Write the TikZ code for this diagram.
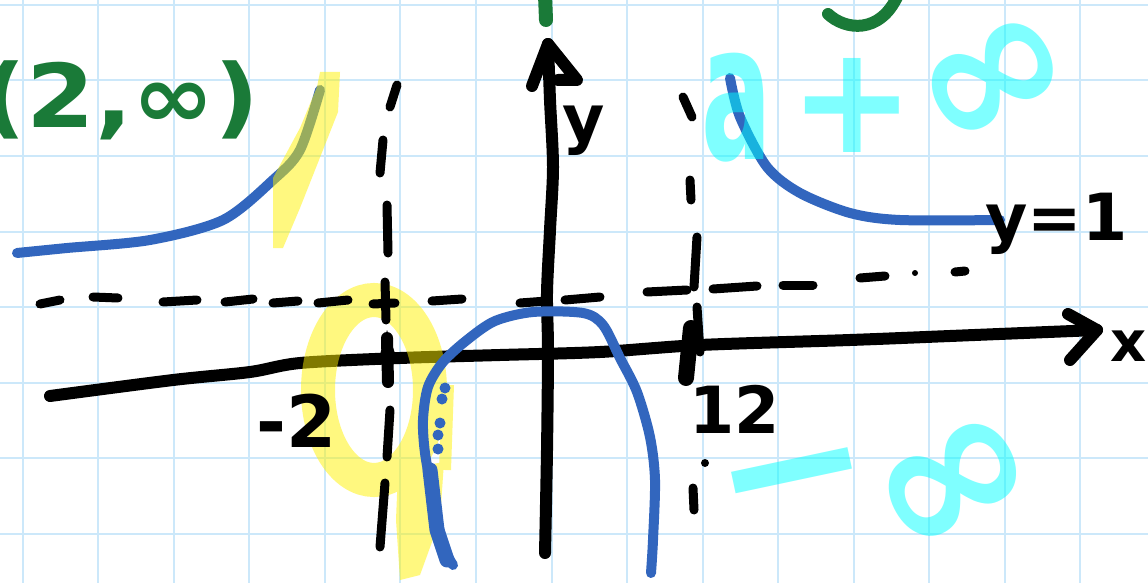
\documentclass[tikz,border=0pt]{standalone}
\usepackage{fontspec}
\setmainfont{DejaVu Sans}
\definecolor{gridblue}{RGB}{204,232,250}
\definecolor{curveblue}{RGB}{50,102,190}
\definecolor{inkgreen}{RGB}{26,122,56}
\definecolor{hicyan}{RGB}{0,255,255}
\begin{document}
\begin{tikzpicture}[x=1pt,y=-1pt,
    gridline/.style={draw=gridblue,line width=2pt},
    pen/.style={line width=12pt,line cap=round,line join=round},
    dashbit/.style={pen,line width=9pt},
    curve/.style={draw=curveblue,line width=10pt,line cap=round,line join=round},
    hand/.style={inner sep=0pt,font=\bfseries\fontsize{#1}{#1}\selectfont},
    hilite/.style={inner sep=0pt,text=hicyan,text opacity=0.5,font=\bfseries\fontsize{#1}{#1}\selectfont}]

    \useasboundingbox (0,0) rectangle (1148,583);
    \fill[white] (0,0) rectangle (1148,583);
    \foreach \i in {0,...,14}
        \draw[gridline] ({22.7+75.55*\i},0) -- ({22.7+75.55*\i},583);
    \foreach \j in {0,...,7}
        \draw[gridline] (0,{5+75.5*\j}) -- (1148,{5+75.5*\j});

    \coordinate (xtail) at (50,396);
    \coordinate (xtip) at (1097,330);
    \coordinate (ytail) at (545,553);
    \coordinate (ytip) at (548,44);

    \draw[pen] plot[smooth] coordinates {(xtail) (173,380) (250,372) (300,363) (400,358) (500,355)
        (600,352) (700,345) (850,340) (950,336) (xtip)};
    \draw[pen] (1068,314) -- (xtip) -- (1070,360);
    \draw[pen] plot[smooth] coordinates {(ytail) (547,450) (548,350) (547,293) (550,230) (553,167)
        (550,100) (ytip)};
    \draw[pen] (532,86) -- (ytip) -- (577,80) -- (558,80);

    \draw[curve] plot[smooth] coordinates {(17,253) (67,248) (150,240) (223,220) (273,180) (300,150) (320,90)};

    \begin{scope}[transparency group,opacity=0.5]
        \draw[yellow,line width=34pt] (374,390) ellipse [x radius=56pt,y radius=90pt];
        \fill[yellow] (398,470) -- (444,462) -- (440,520) -- (420,575) -- (400,580) -- (396,520) -- cycle;
        \fill[yellow] (320,72) -- (340,72) -- (338,112) -- (300,208) -- (283,248) -- (273,248)
            -- (273,178) -- (300,128) -- (317,87) -- cycle;
        \draw[yellow,line width=12pt] (448,385) -- (445,470);
    \end{scope}

    \foreach \xa/\ya/\xb/\yb in {40/304/60/300, 93/297/118/298, 163/302/197/300, 225/302/253/299,
        273/303/298/301, 318/303/348/300, 373/304/395/303, 432/301/462/299, 520/303/547/301,
        565/300/600/297, 647/292/687/290, 713/289/757/286, 783/285/813/285, 860/278/885/276,
        955/272/965/271,
        397/85/390/107, 383/140/380/173, 387/205/388/253, 385/282/386/320, 390/410/387/457,
        385/483/380/547,
        683/97/692/117, 690/180/691/200, 697/237/694/287, 697/307/700/352, 693/488/694/510}
        \draw[dashbit] (\xa,\ya) -- (\xb,\yb);
    \draw[pen,line width=16pt] (691,328) -- (686,378);
    \draw[pen] (387,338) -- (388,382);
    \fill (387,330) -- (398,362) -- (387,355) -- (377,365) -- cycle;
    \fill (705,463) circle[radius=4pt];
    \fill (915,273) circle[radius=3pt];

    \draw[curve] plot[smooth] coordinates {(453,565) (443,545) (433,497) (425,453) (423,420) (428,387)
        (443,362) (467,340) (495,321) (533,312) (583,313) (603,325) (620,358) (637,392) (650,437)
        (655,480) (653,540) (651,573)};
    \draw[curve,line width=15pt] (430,470) -- (437,530) -- (447,560);
    \foreach \x/\y in {445/388, 442/399, 440/423, 438/435, 438/449}
        \fill[curveblue] (\x,\y) circle[radius=5.5pt];
    \draw[curve] plot[smooth] coordinates {(730,78) (740,117) (767,167) (800,193) (850,213) (900,220) (1000,220)};

    \draw[pen,draw=inkgreen,line width=14pt] (545,-5) -- (546,20);
    \draw[pen,draw=inkgreen] (828,14) .. controls (845,30) and (880,35) .. (898,-5);

    \node[hand=88,text=inkgreen,anchor=base east] (domain) at (260,128) {\scalebox{1.12}[1]{(2,∞)}};
    \node[hand=65,anchor=base west] (ylab) at (562,142) {y};
    \node[hand=56,anchor=base west] (xlab) at (1110,361) {x};
    \node[hand=65,anchor=base west] (yone) at (985,240) {y=1};
    \node[hand=72,anchor=base west] (mtwo) at (256,447) {-2};
    \node[hand=65,anchor=base west] (twelve) at (689,433) {12};

    \node[hilite=190,anchor=base] (hia) at (737,160) {\scalebox{0.55}[1]{a}};
    \node[hilite=150] (hiplus) at (852,105) {+};
    \node[hilite=190,rotate=30] (hiinf) at (997,84) {∞};
    \node[hilite=190,rotate=12] (himinus) at (797,494) {−};
    \node[hilite=200,rotate=30] (hilow) at (957,488) {∞};
\end{tikzpicture}
\end{document}
